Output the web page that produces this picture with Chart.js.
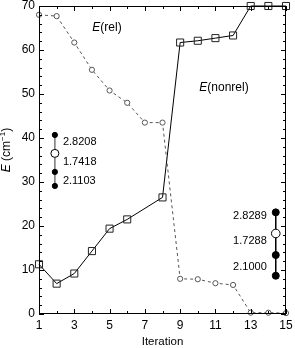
<!DOCTYPE html>
<html>
<head>
<meta charset="utf-8">
<script src="https://cdn.jsdelivr.net/npm/chart.js@4.4.1/dist/chart.umd.min.js"></script>
<style>
  html, body { margin: 0; padding: 0; background: #fff; }
  #wrap { width: 295px; height: 348px; }
</style>
</head>
<body>
<div id="wrap"><canvas id="chart" width="295" height="348"></canvas></div>
<script>
// iterations on the x axis
const iterations = [1, 2, 3, 4, 5, 6, 7, 8, 9, 10, 11, 12, 13, 14, 15];
// E(rel), dashed line with open circles
const relE = [68.0, 67.7, 61.7, 55.5, 50.8, 48.0, 43.5, 43.5, 8.0, 7.9, 7.0, 6.6, 0.3, 0.3, 0.2];
// E(nonrel), solid line with squares (no point at iteration 7)
const nonrelE = [11.3, 6.9, 9.2, 14.3, 19.4, 21.5, null, 26.5, 61.7, 62.1, 62.7, 63.3, 70, 70, 70];

// level diagrams
const leftLevelX = 1.9;
const leftLevelY = [40.7, 36.5, 32.3, 29.1];
const leftLevelFilled = [true, false, true, true];
const leftLabels = ["2.8208", "1.7418", "2.1103"];
const leftLabelY = [39.2, 34.5, 30.2];

const rightLevelX = 14.42;
const rightLevelY = [23.1, 18.3, 13.4, 8.7];
const rightLevelFilled = [true, false, true, true];
const rightLabels = ["2.8289", "1.7288", "2.1000"];
const rightLabelY = [22.3, 16.6, 10.8];

const xTickLabels = [1, 3, 5, 7, 9, 11, 13, 15];
const yTickLabels = [0, 10, 20, 30, 40, 50, 60, 70];

const FONT = "'Liberation Sans', Arial, Helvetica, sans-serif";

function pts(xs, ys) {
    return xs.map((x, i) => ({ x: x, y: ys[i] }));
}
function levelPts(x, ys) {
    return ys.map(y => ({ x: x, y: y }));
}

// inward ticks, frame and text
const decorations = {
    id: "decorations",
    afterDraw(chart) {
        const ctx = chart.ctx;
        const xs = chart.scales.x;
        const ys = chart.scales.y;
        const a = chart.chartArea;
        ctx.save();
        ctx.strokeStyle = "#000";
        ctx.lineWidth = 1;
        ctx.strokeRect(a.left + 0.5, a.top + 0.5, a.right - a.left - 1, a.bottom - a.top - 1);

        ctx.beginPath();
        for (let v = 1; v <= 15; v++) {
            const px = Math.round(xs.getPixelForValue(v)) + 0.5;
            const len = v % 2 === 1 ? 5 : 3;
            ctx.moveTo(px, a.bottom); ctx.lineTo(px, a.bottom - len);
            ctx.moveTo(px, a.top); ctx.lineTo(px, a.top + len);
        }
        for (let v = 0; v <= 70; v += 2) {
            const py = Math.round(ys.getPixelForValue(v)) + 0.5;
            const len = v % 10 === 0 ? 5 : 3;
            ctx.moveTo(a.left, py); ctx.lineTo(a.left + len, py);
            ctx.moveTo(a.right, py); ctx.lineTo(a.right - len, py);
        }
        ctx.stroke();

        ctx.fillStyle = "#000";
        ctx.font = "12px " + FONT;
        ctx.textAlign = "center";
        ctx.textBaseline = "top";
        xTickLabels.forEach(v => ctx.fillText(String(v), xs.getPixelForValue(v), a.bottom + 6));
        ctx.textAlign = "right";
        ctx.textBaseline = "middle";
        yTickLabels.forEach(v => ctx.fillText(String(v), a.left - 4, ys.getPixelForValue(v)));

        // x title
        ctx.textAlign = "center";
        ctx.textBaseline = "alphabetic";
        ctx.font = "11.5px " + FONT;
        ctx.fillText("Iteration", (a.left + a.right) / 2, 345);

        // y title, rotated
        ctx.save();
        ctx.translate(10, 150);
        ctx.rotate(-Math.PI / 2);
        ctx.textBaseline = "alphabetic";
        const parts = [
            { t: "E", f: "italic 12px " + FONT, dy: 0 },
            { t: " (cm", f: "12px " + FONT, dy: 0 },
            { t: "\u22121", f: "8px " + FONT, dy: -5 },
            { t: ")", f: "12px " + FONT, dy: 0 }
        ];
        let total = 0;
        parts.forEach(p => { ctx.font = p.f; total += ctx.measureText(p.t).width; });
        let cx = -total / 2;
        ctx.textAlign = "left";
        parts.forEach(p => {
            ctx.font = p.f;
            ctx.fillText(p.t, cx, p.dy);
            cx += ctx.measureText(p.t).width;
        });
        ctx.restore();

        // series labels
        function richLabel(x, y, rest) {
            ctx.textBaseline = "middle";
            ctx.textAlign = "left";
            ctx.font = "italic 12px " + FONT;
            const w1 = ctx.measureText("E").width;
            ctx.font = "12px " + FONT;
            const w2 = ctx.measureText(rest).width;
            const sx = x - (w1 + w2) / 2;
            ctx.font = "italic 12px " + FONT;
            ctx.fillText("E", sx, y);
            ctx.font = "12px " + FONT;
            ctx.fillText(rest, sx + w1, y);
        }
        richLabel(107, 28, "(rel)");
        richLabel(224, 88, "(nonrel)");

        // level labels
        ctx.font = "11px " + FONT;
        ctx.textBaseline = "middle";
        ctx.textAlign = "left";
        leftLabels.forEach((t, i) => ctx.fillText(t, xs.getPixelForValue(leftLevelX) + 8, ys.getPixelForValue(leftLabelY[i])));
        ctx.textAlign = "right";
        rightLabels.forEach((t, i) => ctx.fillText(t, xs.getPixelForValue(rightLevelX) - 9, ys.getPixelForValue(rightLabelY[i])));
        ctx.restore();
    }
};

new Chart(document.getElementById("chart").getContext("2d"), {
    type: "line",
    data: {
        datasets: [
            {
                label: "E(rel)",
                data: pts(iterations, relE),
                borderColor: "#555",
                borderWidth: 1,
                borderDash: [3, 3],
                pointStyle: "circle",
                pointRadius: 2.6,
                pointBorderColor: "#555",
                pointBackgroundColor: "#fff",
                pointBorderWidth: 1,
                clip: false
            },
            {
                label: "E(nonrel)",
                data: pts(iterations, nonrelE),
                spanGaps: true,
                borderColor: "#000",
                borderWidth: 1,
                pointStyle: "rect",
                pointRadius: 5,
                pointBorderColor: "#222",
                pointBackgroundColor: "rgba(255,255,255,0)",
                pointBorderWidth: 1,
                clip: false
            },
            {
                label: "left levels",
                data: levelPts(leftLevelX, leftLevelY),
                borderColor: "#777",
                borderWidth: 1.5,
                pointRadius: leftLevelFilled.map(f => f ? 2.6 : 4),
                pointBorderColor: "#000",
                pointBackgroundColor: leftLevelFilled.map(f => f ? "#000" : "#fff"),
                pointBorderWidth: 1,
                clip: false
            },
            {
                label: "right levels",
                data: levelPts(rightLevelX, rightLevelY),
                borderColor: "#000",
                borderWidth: 1.5,
                pointRadius: rightLevelFilled.map(f => f ? 3.5 : 4.3),
                pointBorderColor: "#000",
                pointBackgroundColor: rightLevelFilled.map(f => f ? "#000" : "#fff"),
                pointBorderWidth: 1,
                clip: false
            }
        ]
    },
    options: {
        responsive: false,
        animation: false,
        layout: { padding: { top: 6, right: 9, left: 0, bottom: 0 } },
        plugins: {
            legend: { display: false },
            tooltip: { enabled: false }
        },
        scales: {
            x: {
                type: "linear",
                min: 1,
                max: 15,
                grid: { display: false, drawTicks: false },
                border: { display: false },
                ticks: { display: false },
                afterFit: s => { s.height = 34; }
            },
            y: {
                min: 0,
                max: 70,
                grid: { display: false, drawTicks: false },
                border: { display: false },
                ticks: { display: false },
                afterFit: s => { s.width = 39; }
            }
        }
    },
    plugins: [decorations]
});
</script>
</body>
</html>
